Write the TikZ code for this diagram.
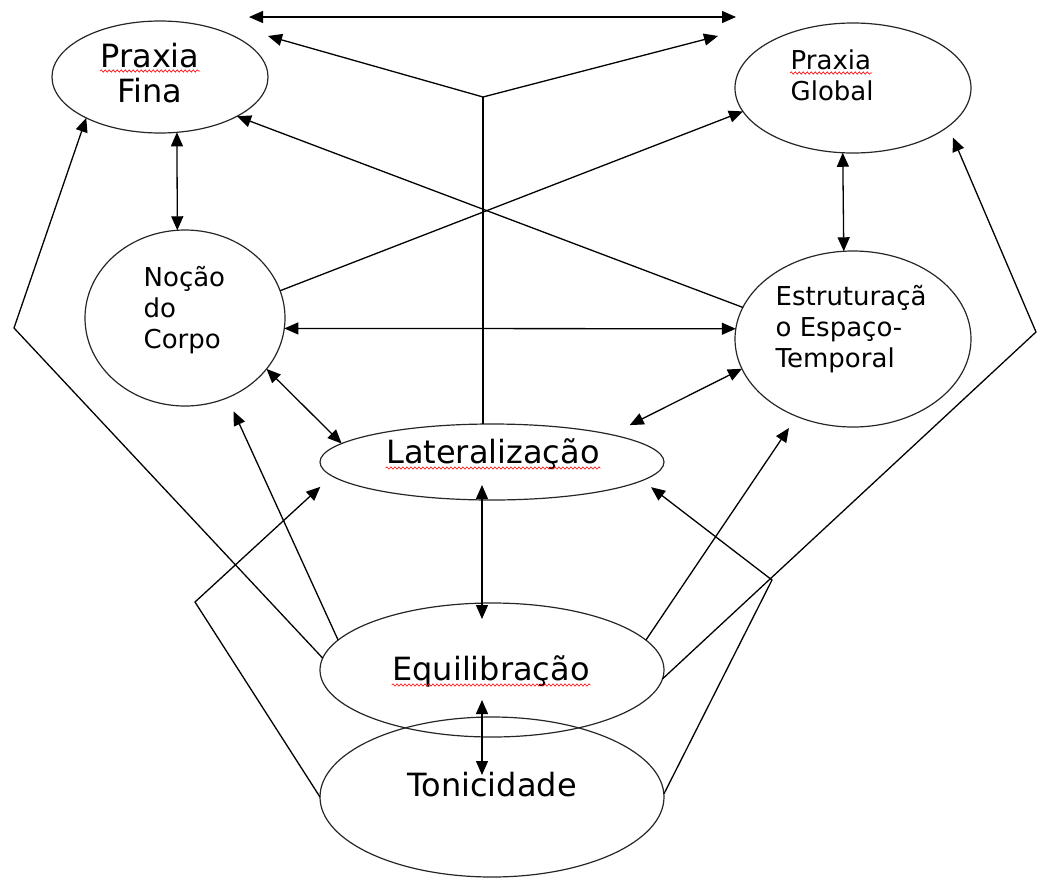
\documentclass[tikz,border=0pt]{standalone}
\usepackage{fontspec}
\setmainfont{DejaVu Sans}
\usetikzlibrary{arrows.meta, calc, shapes.geometric, decorations.pathmorphing}

\begin{document}
\begin{tikzpicture}[x=1pt, y=-1pt, line width=1.3pt,
    bub/.style={ellipse, draw=black!85, line width=1.2pt, inner sep=0pt, outer sep=0pt},
    big/.style={font=\fontsize{32}{35}\selectfont, inner sep=0pt},
    small/.style={font=\fontsize{26}{31}\selectfont, align=left, inner sep=0pt},
    arr/.style={-{Triangle[length=14pt, width=12pt]}},
    both/.style={{Triangle[length=14pt, width=12pt]}-{Triangle[length=14pt, width=12pt]}},
    spell/.style={red, line width=0.6pt, decorate,
      decoration={snake, amplitude=1.2pt, segment length=4pt}}]
  \useasboundingbox (0,0) rectangle (1037,879);

  % the seven bubbles
  \node[bub, minimum width=216pt, minimum height=112pt] (fina) at (160,77) {};
  \node[bub, minimum width=236pt, minimum height=130pt] (global) at (853,88) {};
  \node[bub, minimum width=200pt, minimum height=176pt] (corpo) at (185,318) {};
  \node[bub, minimum width=236pt, minimum height=176pt] (espaco) at (853,339) {};
  \node[bub, minimum width=344pt, minimum height=76pt] (lat) at (492,462) {};
  \node[bub, minimum width=344pt, minimum height=134pt] (equi) at (492,670) {};
  \node[bub, minimum width=344pt, minimum height=160pt] (toni) at (492,797) {};

  % texts
  \node[big, align=center, anchor=base] (finatxt) at (150,102) {Praxia\\Fina};
  \node[small, anchor=base west] (globaltxt) at (790,100) {Praxia\\Global};
  \node[small, anchor=base west] (corpotxt) at (143,348) {Noção\\do\\Corpo};
  \node[small, anchor=base west] (espacotxt) at (775,367) {Estruturaçã\\o Espaço-\\Temporal};
  \node[big, anchor=base] (lattxt) at (493,463) {Lateralização};
  \node[big, anchor=base] (equitxt) at (491,680) {Equilibração};
  \node[big, anchor=base] (tonitxt) at (492,796) {Tonicidade};

  \draw[spell] (100,71) -- (200,71);
  \draw[spell] (790,73) -- (872,73);
  \draw[spell] ($(lattxt.base west)+(0,5)$) -- ($(lattxt.base east)+(0,5)$);
  \draw[spell] ($(equitxt.base west)+(0,5)$) -- ($(equitxt.base east)+(0,5)$);

  % top arrows
  \coordinate (topl) at (249,17);
  \coordinate (topr) at (736,17);
  \coordinate (fork) at (483,97);
  \coordinate (forkl) at (268,36);
  \coordinate (forkr) at (718,36);
  \draw[both] (topl) -- (topr);
  \draw[arr] (fork) -- (forkl);
  \draw[arr] (fork) -- (forkr);
  \draw (fork) -- (fork |- lat.north);

  % between the bubbles
  \draw[both] (fina.-73) -- (corpo.95);
  \draw[both] (global.-99) -- (espaco.96);
  \draw[both] (corpo.-6) -- (espaco.175);
  \draw[arr] (corpo.16) -- (global.-168);
  \draw[arr] (espaco.164) -- (fina.-27.5);
  \draw[both] (corpo.-32) -- (lat.173);
  \draw[both, shorten <=21pt] (lat.13) -- (espaco.-165);
  \draw[both] ($(lat.center)+(-10,23)$) -- ($(equi.center)+(-10,-51)$);
  \draw[both] ($(equi.center)+(-10,30)$) -- ($(toni.center)+(-10,-22)$);
  \draw[arr, shorten >=15pt] (equi.169) -- (corpo.-62.6);
  \draw[arr, shorten >=14pt] (equi.11.9) -- (espaco.-126.5);

  % long lines round the sides
  \coordinate (lcorner) at (14,328);
  \coordinate (llow) at (195,602);
  \coordinate (rlow) at (772,580);
  \coordinate (rcorner) at (1036,332);
  \draw[arr] (equi.176) -- (lcorner) -- (fina.-151.3);
  \draw[arr, shorten >=16pt] (toni.180) -- (llow) -- (lat.-175);
  \draw[arr, shorten >=11pt] (toni.1.7) -- (rlow) -- (lat.-7.5);
  \draw[arr, shorten >=12pt] (equi.-3.3) -- (rcorner) -- (global.-22);
\end{tikzpicture}
\end{document}
